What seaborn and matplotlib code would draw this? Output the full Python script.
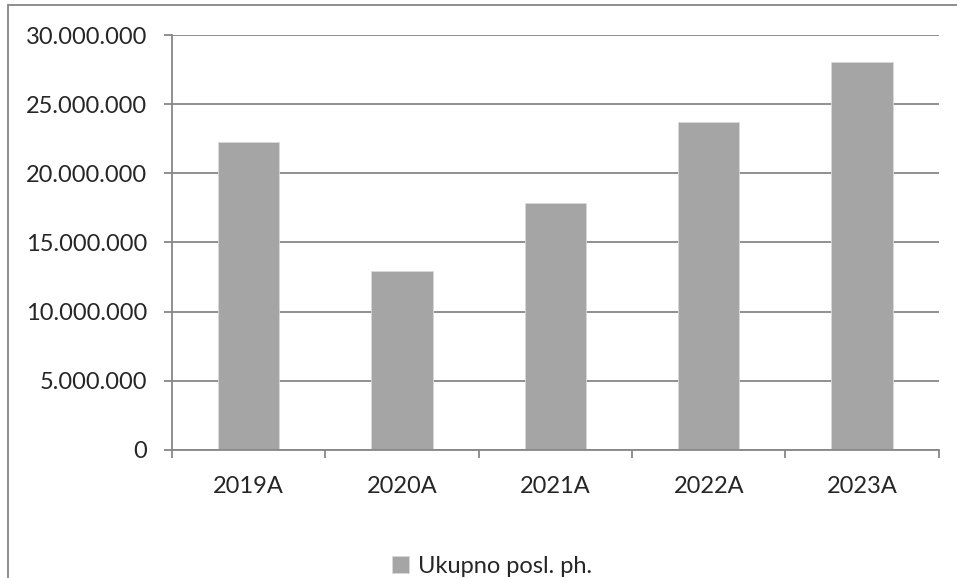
import numpy as np
import pandas as pd
import matplotlib
matplotlib.use("Agg")
import matplotlib.pyplot as plt
import seaborn as sns
from matplotlib.lines import Line2D
from matplotlib.ticker import FuncFormatter, FixedLocator

years = ["2019A", "2020A", "2021A", "2022A", "2023A"]
values = [22250000, 12950000, 17850000, 23730000, 28070000]
series_name = "Ukupno posl. ph."

data = pd.DataFrame({"year": years, "value": values})

sns.set_style("white")
plt.rcParams["font.family"] = ["Lato", "DejaVu Sans"]

fig = plt.figure(figsize=(9.57, 5.78), dpi=100)
ax = fig.add_axes([0.1797, 0.2215, 0.8013, 0.7179])

bar_color = "#A5A5A5"
line_color = "#878787"

sns.barplot(data=data, x="year", y="value", color=bar_color, width=0.4,
            saturation=1, ax=ax, label=series_name)
for p in ax.patches:
    p.set_edgecolor("#D9D9D9")
    p.set_linewidth(0.6)

ax.set_xlim(-0.5, len(years) - 0.5)
ax.set_ylim(0, 30000000)
ax.set_yticks(np.arange(0, 30000001, 5000000))
ax.yaxis.set_major_formatter(FuncFormatter(lambda v, p: f"{int(v):,}".replace(",", ".")))
ax.grid(axis="y", color=line_color, linewidth=1.3)
ax.set_axisbelow(True)
ax.set_xlabel("")
ax.set_ylabel("")

for side in ["top", "right"]:
    ax.spines[side].set_visible(False)
for side in ["left", "bottom"]:
    ax.spines[side].set_color(line_color)
    ax.spines[side].set_linewidth(1.3)

ax.tick_params(axis="y", which="major", direction="out", length=6, width=1.3,
               color=line_color, labelsize=17, pad=12, left=True)
ax.tick_params(axis="x", which="major", length=0, labelsize=17, pad=19)
ax.xaxis.set_minor_locator(FixedLocator(np.arange(-0.5, len(years), 1.0)))
ax.tick_params(axis="x", which="minor", direction="out", length=6, width=1.3,
               color=line_color, bottom=True)

leg = ax.legend(loc="center", bbox_to_anchor=(0.418, -0.28), frameon=False,
                fontsize=17, handlelength=0.7, handleheight=0.7, handletextpad=0.4)

# chart frame (left and top edges visible)
fig.add_artist(Line2D([8 / 957, 8 / 957], [0, 1 - 5 / 578], transform=fig.transFigure,
                      color="#868686", linewidth=1.3))
fig.add_artist(Line2D([8 / 957, 1], [1 - 5 / 578, 1 - 5 / 578], transform=fig.transFigure,
                      color="#868686", linewidth=1.3))

fig.savefig("out.png", dpi=100)
